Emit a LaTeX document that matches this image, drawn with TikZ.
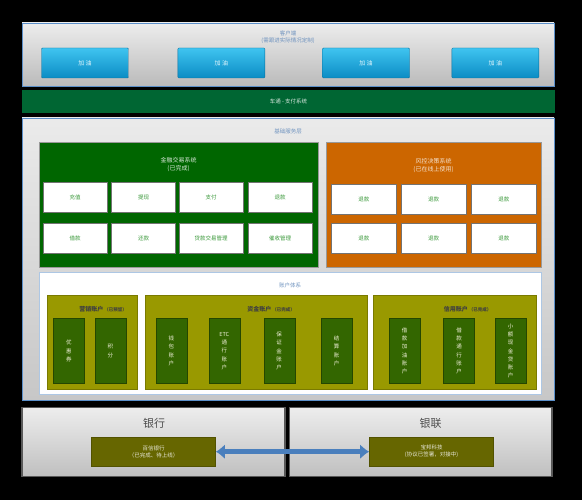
\documentclass[tikz,border=0pt]{standalone}
\usepackage{fontspec}
\setmainfont{Noto Sans CJK SC}
\usetikzlibrary{arrows.meta}

\definecolor{panelblue}{HTML}{5B8FC9}
\definecolor{titleblue}{HTML}{6F93BF}
\definecolor{btntop}{HTML}{3FC4F0}
\definecolor{btnbot}{HTML}{0B8CC4}
\definecolor{bargreen}{HTML}{006633}
\definecolor{fingreen}{HTML}{006600}
\definecolor{riskorange}{HTML}{CC6600}
\definecolor{accolive}{HTML}{999900}
\definecolor{accgreen}{HTML}{336600}
\definecolor{bankolive}{HTML}{666600}
\definecolor{celltext}{HTML}{3C9A3C}
\definecolor{arrowblue}{HTML}{4A7FBD}

\newcommand\accnotefont{\fontsize{4.5}{5}\selectfont}

\tikzset{
  panel/.style={draw=panelblue, line width=0.9pt, top color=black!7, bottom color=black!27},
  title/.style={text=titleblue, font=\fontsize{5.5}{6.5}\selectfont, align=center},
  button/.style={draw=btnbot!80!black, rounded corners=1pt, top color=btntop, bottom color=btnbot,
    text=white!85!btntop, font=\fontsize{6}{7}\selectfont, minimum width=87pt, minimum height=30pt},
  system/.style={draw=black!40, line width=0.8pt, minimum height=125pt},
  systitle/.style={font=\fontsize{6}{7.5}\selectfont, align=center},
  cell/.style={draw=black!55, line width=0.6pt, fill=white, text=celltext,
    font=\fontsize{5.5}{6.5}\selectfont, minimum height=30pt},
  account/.style={fill=accolive, draw=accolive!80!black, line width=0.4pt, minimum height=94pt},
  acctitle/.style={text=black!75, font=\fontsize{6}{7}\selectfont\bfseries},
  subacc/.style={fill=accgreen, draw=accgreen!70!black, line width=0.4pt, text=white!85!accolive,
    font=\fontsize{5.5}{8.2}\selectfont, align=center, minimum width=31pt, minimum height=64.6pt},
  bank/.style={draw=black!65, line width=1.2pt, top color=black!7, bottom color=black!25,
    minimum width=263pt, minimum height=69pt},
  partner/.style={fill=bankolive, draw=bankolive!80!black, text=white!85!bankolive,
    font=\fontsize{5.5}{7}\selectfont, align=center, minimum width=124.3pt, minimum height=29.4pt}
}

\begin{document}
\begin{tikzpicture}[x=1pt, y=-1pt]
  \fill[black] (0,0) rectangle (582,500);
  \useasboundingbox (0,0) rectangle (582,500);

  % client side
  \node[panel, minimum width=532pt, minimum height=63pt] (C) at (288,54.5) {};
  \node[title] (Ct) at (288,37) {客户端\\(需跟进实际情况定制)};
  \node[button] (C1) at (85,63) {加 油};
  \node[button] (C2) at (221.4,63) {加 油};
  \node[button] (C3) at (366,63) {加 油};
  \node[button] (C4) at (495.4,63) {加 油};

  \node[fill=bargreen, minimum width=533pt, minimum height=22.6pt, text=white!85!bargreen,
    font=\fontsize{5.5}{6.5}\selectfont] (P) at (288.5,101.3) {车通 - 支付系统};

  % base services
  \node[panel, top color=black!8, bottom color=black!22, minimum width=532pt, minimum height=282pt] (B) at (288,259) {};
  \node[title] (Bt) at (288,131) {基础服务层};

  \node[system, fill=fingreen, minimum width=279pt] (F) at (178.5,204.5) {};
  \node[systitle, text=white!85!fingreen] (Ft) at (178.5,164.5) {金融交易系统\\(已完成)};
  \node[cell, minimum width=63.7pt] (F1) at (75.2,197) {充值};
  \node[cell, minimum width=63.7pt] (F2) at (143.5,197) {提现};
  \node[cell, minimum width=63.7pt] (F3) at (211.2,197) {支付};
  \node[cell, minimum width=63.7pt] (F4) at (280,197) {退款};
  \node[cell, minimum width=63.7pt] (F5) at (75.2,238) {借款};
  \node[cell, minimum width=63.7pt] (F6) at (143.5,238) {还款};
  \node[cell, minimum width=63.7pt] (F7) at (211.2,238) {贷款交易管理};
  \node[cell, minimum width=63.7pt] (F8) at (280,238) {催收管理};

  \node[system, fill=riskorange, minimum width=215pt] (R) at (433.5,204.5) {};
  \node[systitle, text=white!80!riskorange] (Rt) at (433.5,165.5) {风控决策系统\\(已在线上使用)};
  \foreach \x [count=\i] in {363.8,433.7,503.9} {
    \node[cell, minimum width=65pt] (R\i) at (\x,199) {退款};
    \node[cell, minimum width=65pt] (S\i) at (\x,238) {退款};
  }

  % accounts
  \node[fill=white, draw=panelblue!50, line width=0.8pt, minimum width=502pt, minimum height=121.3pt] (A) at (290,333.4) {};
  \node[title] (At) at (290,285) {账户体系};

  \node[account, minimum width=90.3pt] (M) at (92.2,342) {};
  \node[acctitle] (Mt) at (103,309) {营销账户\,{\accnotefont（已预留）}};
  \node[subacc] (M1) at (68.8,351) {优\\惠\\券};
  \node[subacc] (M2) at (110.4,351) {积\\分};

  \node[account, minimum width=222.3pt] (K) at (256.2,342) {};
  \node[acctitle] (Kt) at (271,309) {资金账户\,{\accnotefont（已完成）}};
  \node[subacc] (K1) at (171.3,351) {钱\\包\\账\\户};
  \node[subacc] (K2) at (224.3,351) {ETC\\通\\行\\账\\户};
  \node[subacc] (K3) at (279.2,351) {保\\证\\金\\账\\户};
  \node[subacc] (K4) at (336.7,351) {结\\算\\账\\户};

  \node[account, minimum width=162.4pt] (L) at (454.5,342) {};
  \node[acctitle] (Lt) at (467.5,309) {信用账户\,{\accnotefont（已完成）}};
  \node[subacc] (L1) at (404.7,351) {借\\款\\加\\油\\账\\户};
  \node[subacc] (L2) at (459,351) {借\\款\\通\\行\\账\\户};
  \node[subacc] (L3) at (510.7,351) {小\\额\\现\\金\\贷\\账\\户};

  % bank and unionpay
  \node[bank] (Y) at (153.5,442) {};
  \node[text=black!70, font=\fontsize{11}{12}\selectfont] (Yt) at (154,423) {银行};
  \node[partner] (Y1) at (153.5,451.7) {百信银行\\（已完成、待上线）};

  \node[bank, minimum width=262.4pt] (U) at (420.8,442) {};
  \node[text=black!70, font=\fontsize{11}{12}\selectfont] (Ut) at (430.7,423) {银联};
  \node[partner] (U1) at (431.5,451.7) {宝邦科技\\(协议已签署，对接中)};

  \draw[{Latex[length=9pt,width=15pt]}-{Latex[length=9pt,width=15pt]}, arrowblue, line width=4.5pt]
    (Y1.east) -- (U1.west);
\end{tikzpicture}
\end{document}
